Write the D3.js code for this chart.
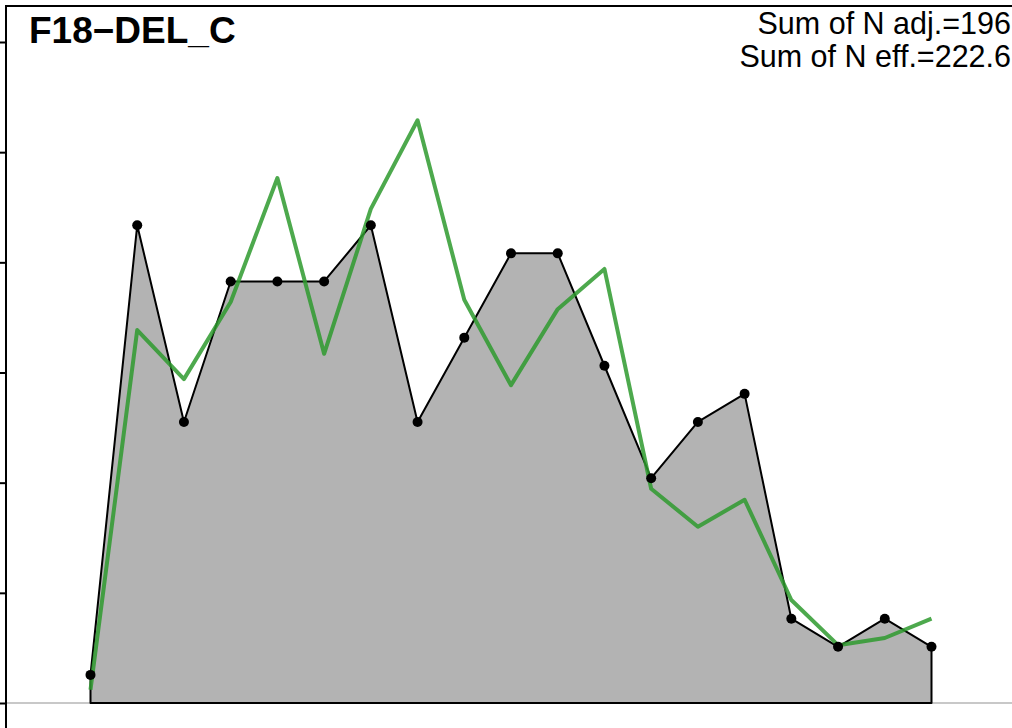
<!DOCTYPE html>
<html>
<head>
<meta charset="utf-8">
<script src="https://cdn.jsdelivr.net/npm/d3@7"></script>
<style>
html,body{margin:0;padding:0;background:#fff;overflow:hidden;}
svg{display:block;font-family:"Liberation Sans",Arial,Helvetica,sans-serif;}
</style>
</head>
<body>
<svg id="chart" width="1012" height="728"></svg>
<script>
// Bin index (x categories)
const bins = [1,2,3,4,5,6,7,8,9,10,11,12,13,14,15,16,17,18,19];
// Observed counts (N adj.), shown as proportions
const counts = [1,17,10,15,15,15,17,10,13,16,16,12,8,10,11,3,2,3,2];
// Expected proportions (green line)
const expected = [0.0024,0.0677,0.0588,0.0728,0.0953,0.0634,0.0897,0.1058,0.0732,0.0577,0.0715,0.0788,0.0389,0.0320,0.0369,0.0187,0.0105,0.0118,0.0153];
const yTicks = [0,0.02,0.04,0.06,0.08,0.10,0.12];
const title = "F18\u2212DEL_C";
const label1 = "Sum of N adj.=196";
const label2 = "Sum of N eff.=222.6";

const total = d3.sum(counts);
const obs = counts.map(c => c / total);

const svg = d3.select("#chart");
const x = d3.scaleLinear().domain([1,19]).range([90.5,931.5]);
const y = d3.scaleLinear().domain([0,0.12]).range([703,42]);

// baseline
svg.append("line").attr("x1",7).attr("x2",1012).attr("y1",y(0)).attr("y2",y(0))
  .attr("stroke","#c8c8c8").attr("stroke-width",2);

// observed polygon
const poly = [[bins[0],0]].concat(bins.map((b,i)=>[b,obs[i]])).concat([[bins[bins.length-1],0]]);
svg.append("path")
  .attr("d", d3.line().x(d=>x(d[0])).y(d=>y(d[1]))(poly) + "Z")
  .attr("fill","#b3b3b3").attr("stroke","#000").attr("stroke-width",2).attr("stroke-linejoin","round");

// expected line
svg.append("path")
  .attr("d", d3.line().x((d,i)=>x(bins[i])).y(d=>y(d))(expected))
  .attr("fill","none").attr("stroke","#2e9a2e").attr("stroke-opacity",0.85).attr("stroke-width",4).attr("stroke-linejoin","round");

// points
svg.selectAll("circle.pt").data(obs).enter().append("circle")
  .attr("class","pt").attr("cx",(d,i)=>x(bins[i])).attr("cy",d=>y(d)).attr("r",5).attr("fill","#000");

// frame
svg.append("rect").attr("x",6).attr("y",6).attr("width",1030).attr("height",740)
  .attr("fill","none").attr("stroke","#000").attr("stroke-width",2);

// y axis ticks
const ax = svg.append("g").attr("transform","translate(6,0)")
  .call(d3.axisLeft(y).tickValues(yTicks).tickSize(7).tickFormat(""));
ax.select(".domain").remove();
ax.selectAll("line").attr("stroke","#000").attr("stroke-width",2);

// title
svg.append("text").attr("x",29).attr("y",43).attr("font-size",37).attr("font-weight","bold").text(title);
svg.append("text").attr("x",1011).attr("y",34).attr("font-size",30.5).attr("text-anchor","end").text(label1);
svg.append("text").attr("x",1011).attr("y",67).attr("font-size",30.5).attr("text-anchor","end").text(label2);
</script>
</body>
</html>
